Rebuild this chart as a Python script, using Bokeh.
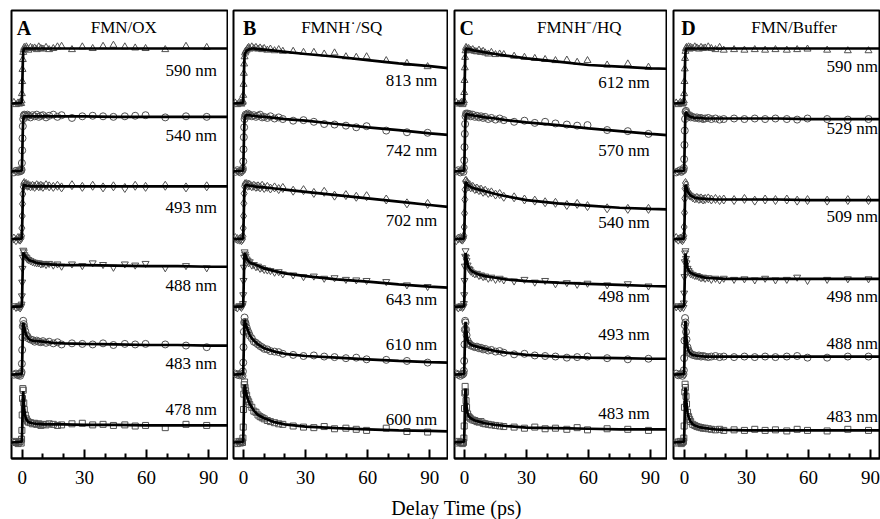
from bokeh.plotting import figure
from bokeh.layouts import row, column
from bokeh.models import FixedTicker, Range1d
from bokeh.core.properties import value
from bokeh.embed import file_html
from bokeh.resources import INLINE

# ---------------- data (normalised transient signal) ----------------
T_DATA = [-4.0, -3.0, -2.0, -1.5, -1.0, -0.5,
          -0.3, -0.15, 0.0, 0.15, 0.3, 0.5, 0.75, 1.0,
          1.5, 2.0, 2.5, 3.0, 4.0, 5.0,
          6.0, 7.0, 8.0, 9.0, 10.0,
          11.5, 13.0, 15.0, 17.0,
          19.0, 24.0, 29.0, 34.0, 39.0, 44.0, 49.5, 54.5, 59.5,
          69.0, 79.0, 89.0]
T_FIT = [-5.3, -0.3, -0.15, 0.0, 0.15, 0.3, 0.5, 0.75,
         1.0, 1.5, 2.0, 3.0, 4.0, 5.0, 7.0, 10.0,
         15.0, 20.0, 30.0, 45.0, 60.0, 75.0, 90.0, 100.0]

PANEL_LETTERS = ["A", "B", "C", "D"]
PANEL_TITLES = ["FMN/OX", "FMNH\u02D9/SQ", "FMNH\u207B/HQ", "FMN/Buffer"]

OX_LABELS = ["590 nm", "540 nm", "493 nm", "488 nm", "483 nm", "478 nm"]
SQ_LABELS = ["813 nm", "742 nm", "702 nm", "643 nm", "610 nm", "600 nm"]
HQ_LABELS = ["612 nm", "570 nm", "540 nm", "498 nm", "493 nm", "483 nm"]
BUF_LABELS = ["590 nm", "529 nm", "509 nm", "498 nm", "488 nm", "483 nm"]

# ---- FMN/OX ----
OX_590_DATA = [0.02, -0.02, 0.01, -0.01, 0.02, 0.0,
               0.05, 0.18, 0.4, 0.62, 0.8, 0.93, 0.98, 1.02,
               0.99, 1.03, 1.0, 0.97, 1.02, 1.0,
               1.01, 0.98, 1.03, 1.0, 0.99,
               1.02, 0.98, 1.0, 1.03,
               1.04, 0.98, 1.03, 1.0, 1.04, 1.06, 1.03, 1.01, 1.0,
               0.98, 1.04, 1.02]
OX_590_FIT = [0.0, 0.01, 0.06, 0.25, 0.5, 0.75, 0.93, 0.99,
              1.0, 1.0, 1.0, 1.0, 1.0, 1.0, 1.0, 1.0,
              1.0, 1.0, 1.0, 1.0, 1.0, 1.0, 1.0, 1.0]
OX_540_DATA = [-0.02, 0.01, -0.01, 0.02, 0.0, 0.01,
               0.03, 0.15, 0.38, 0.6, 0.82, 0.95, 1.01, 1.03,
               1.02, 0.99, 1.03, 1.01, 0.98, 1.02,
               1.0, 1.03, 0.99, 1.01, 1.02,
               0.98, 1.01, 1.03, 0.99,
               1.02, 0.97, 1.0, 1.01, 1.0, 0.99, 1.0, 1.01, 1.02,
               0.98, 1.0, 0.99]
OX_540_FIT = [0.0, 0.01, 0.06, 0.25, 0.5, 0.75, 0.93, 0.99,
              1.0, 1.0, 1.0, 1.0, 1.0, 1.0, 1.0, 1.0,
              1.0, 1.0, 1.0, 0.99, 0.99, 0.99, 0.99, 0.99]
OX_493_DATA = [0.01, -0.02, 0.02, 0.0, -0.01, 0.02,
               0.06, 0.2, 0.42, 0.64, 0.82, 0.95, 1.0, 1.02,
               0.99, 1.0, 0.97, 0.98, 0.96, 0.97,
               0.95, 0.98, 0.96, 0.97, 0.95,
               0.98, 0.96, 0.95, 0.97,
               0.94, 0.98, 0.95, 0.97, 0.94, 0.96, 0.93, 0.97, 0.95,
               0.97, 0.94, 0.96]
OX_493_FIT = [0.0, 0.01, 0.06, 0.25, 0.5, 0.74, 0.92, 0.98,
              0.99, 0.98, 0.97, 0.97, 0.96, 0.96, 0.96, 0.96,
              0.96, 0.96, 0.96, 0.96, 0.96, 0.96, 0.96, 0.96]
OX_488_DATA = [0.02, -0.01, 0.0, 0.02, -0.02, 0.01,
               0.05, 0.2, 0.45, 0.7, 0.9, 1.03, 1.0, 0.95,
               0.92, 0.9, 0.87, 0.86, 0.84, 0.82,
               0.81, 0.8, 0.8, 0.78, 0.79,
               0.77, 0.79, 0.76, 0.78,
               0.74, 0.78, 0.75, 0.8, 0.77, 0.72, 0.78, 0.76, 0.79,
               0.71, 0.75, 0.71]
OX_488_FIT = [0.0, 0.01, 0.06, 0.25, 0.52, 0.78, 0.97, 0.98,
              0.95, 0.92, 0.9, 0.86, 0.84, 0.83, 0.8, 0.78,
              0.77, 0.76, 0.76, 0.75, 0.74, 0.74, 0.73, 0.73]
OX_483_DATA = [0.0, 0.02, -0.01, 0.01, -0.02, 0.02,
               0.05, 0.2, 0.45, 0.68, 0.88, 0.98, 0.92, 0.86,
               0.79, 0.72, 0.7, 0.66, 0.64, 0.63,
               0.6, 0.62, 0.6, 0.59, 0.61,
               0.58, 0.6, 0.57, 0.59,
               0.55, 0.57, 0.56, 0.55, 0.57, 0.54, 0.56, 0.55, 0.56,
               0.55, 0.53, 0.5]
OX_483_FIT = [0.0, 0.01, 0.06, 0.25, 0.5, 0.76, 0.95, 0.9,
              0.85, 0.78, 0.72, 0.66, 0.63, 0.62, 0.61, 0.6,
              0.58, 0.57, 0.56, 0.55, 0.54, 0.54, 0.53, 0.53]
OX_478_DATA = [0.02, 0.0, -0.02, 0.01, 0.02, -0.01,
               0.06, 0.22, 0.5, 0.8, 0.98, 0.95, 0.72, 0.6,
               0.5, 0.43, 0.39, 0.37, 0.36, 0.34,
               0.35, 0.33, 0.34, 0.31, 0.33,
               0.32, 0.34, 0.33, 0.31,
               0.32, 0.34, 0.35, 0.32, 0.33, 0.31, 0.32, 0.3, 0.31,
               0.27, 0.33, 0.31]
OX_478_FIT = [0.0, 0.01, 0.06, 0.25, 0.52, 0.8, 0.93, 0.75,
              0.6, 0.48, 0.42, 0.37, 0.36, 0.35, 0.34, 0.33,
              0.33, 0.33, 0.32, 0.32, 0.31, 0.31, 0.31, 0.31]

# ---- FMNH./SQ ----
SQ_813_DATA = [0.01, -0.02, 0.02, 0.0, -0.01, 0.02,
               0.04, 0.15, 0.35, 0.55, 0.72, 0.85, 0.92, 0.95,
               0.97, 1.0, 1.02, 0.99, 1.03, 1.0,
               1.02, 0.99, 1.01, 0.98, 1.0,
               0.97, 0.99, 0.96, 0.98,
               0.95, 0.95, 0.93, 0.93, 0.9, 0.92, 0.85, 0.84, 0.85,
               0.78, 0.73, 0.67]
SQ_813_FIT = [0.0, 0.01, 0.05, 0.22, 0.45, 0.68, 0.86, 0.91,
              0.93, 0.96, 0.97, 0.99, 1.0, 1.0, 0.99, 0.98,
              0.96, 0.94, 0.9, 0.85, 0.79, 0.73, 0.68, 0.64]
SQ_742_DATA = [-0.01, 0.02, 0.0, -0.02, 0.01, 0.02,
               0.05, 0.18, 0.4, 0.62, 0.8, 0.95, 1.0, 1.03,
               1.02, 1.05, 1.01, 1.03, 1.0, 1.02,
               0.99, 1.01, 1.03, 0.98, 0.99,
               0.97, 1.0, 0.96, 0.98,
               0.95, 0.92, 0.93, 0.9, 0.86, 0.85, 0.83, 0.8, 0.82,
               0.74, 0.71, 0.7]
SQ_742_FIT = [0.0, 0.01, 0.06, 0.25, 0.5, 0.75, 0.94, 0.99,
              1.01, 1.02, 1.02, 1.02, 1.01, 1.01, 1.0, 0.99,
              0.97, 0.95, 0.92, 0.86, 0.8, 0.75, 0.69, 0.66]
SQ_702_DATA = [0.02, 0.0, -0.01, 0.01, -0.02, 0.0,
               0.05, 0.2, 0.42, 0.65, 0.83, 0.96, 1.0, 0.99,
               1.0, 0.97, 0.99, 0.98, 0.96, 0.97,
               0.95, 0.96, 0.94, 0.97, 0.93,
               0.95, 0.92, 0.94, 0.91,
               0.93, 0.88, 0.89, 0.84, 0.86, 0.79, 0.8, 0.77, 0.78,
               0.72, 0.65, 0.64]
SQ_702_FIT = [0.0, 0.01, 0.06, 0.25, 0.5, 0.75, 0.93, 0.97,
              0.98, 0.98, 0.98, 0.97, 0.97, 0.96, 0.95, 0.94,
              0.92, 0.9, 0.86, 0.8, 0.74, 0.68, 0.62, 0.58]
SQ_643_DATA = [0.0, -0.02, 0.02, 0.01, -0.01, 0.02,
               0.06, 0.22, 0.48, 0.72, 0.9, 1.0, 0.96, 0.92,
               0.87, 0.84, 0.8, 0.82, 0.76, 0.77,
               0.73, 0.74, 0.7, 0.71, 0.68,
               0.67, 0.66, 0.63, 0.64,
               0.6, 0.58, 0.55, 0.56, 0.52, 0.53, 0.5, 0.49, 0.48,
               0.46, 0.4, 0.37]
SQ_643_FIT = [0.0, 0.01, 0.06, 0.25, 0.52, 0.78, 0.97, 0.97,
              0.93, 0.88, 0.85, 0.81, 0.79, 0.78, 0.75, 0.7,
              0.65, 0.61, 0.56, 0.5, 0.46, 0.41, 0.37, 0.35]
SQ_610_DATA = [0.02, 0.0, -0.01, 0.02, 0.0, -0.02,
               0.06, 0.22, 0.5, 0.78, 0.95, 1.04, 0.96, 0.93,
               0.86, 0.8, 0.76, 0.71, 0.66, 0.6,
               0.58, 0.55, 0.52, 0.5, 0.47,
               0.46, 0.43, 0.42, 0.41,
               0.38, 0.36, 0.34, 0.35, 0.33, 0.32, 0.3, 0.31, 0.28,
               0.27, 0.25, 0.22]
SQ_610_FIT = [0.0, 0.01, 0.06, 0.26, 0.53, 0.8, 1.0, 0.98,
              0.94, 0.87, 0.82, 0.72, 0.66, 0.62, 0.55, 0.48,
              0.42, 0.38, 0.34, 0.31, 0.28, 0.25, 0.23, 0.22]
SQ_600_DATA = [0.01, -0.02, 0.02, -0.01, 0.02, 0.0,
               0.08, 0.28, 0.6, 0.88, 1.05, 1.1, 1.0, 0.94,
               0.86, 0.78, 0.74, 0.69, 0.64, 0.57,
               0.55, 0.5, 0.47, 0.45, 0.43,
               0.4, 0.38, 0.36, 0.34,
               0.33, 0.3, 0.28, 0.27, 0.29, 0.25, 0.26, 0.24, 0.22,
               0.26, 0.2, 0.19]
SQ_600_FIT = [0.0, 0.01, 0.07, 0.28, 0.56, 0.84, 1.05, 1.02,
              0.96, 0.87, 0.8, 0.7, 0.64, 0.58, 0.5, 0.44,
              0.37, 0.33, 0.29, 0.26, 0.24, 0.22, 0.21, 0.2]

# ---- FMNH-/HQ ----
HQ_612_DATA = [0.02, -0.01, 0.0, 0.02, -0.02, 0.01,
               0.05, 0.2, 0.42, 0.65, 0.84, 0.96, 1.02, 1.0,
               0.98, 1.0, 0.96, 0.97, 0.98, 0.95,
               0.94, 0.97, 0.93, 0.95, 0.92,
               0.9, 0.93, 0.89, 0.9,
               0.89, 0.86, 0.84, 0.82, 0.8, 0.78, 0.79, 0.75, 0.78,
               0.7, 0.72, 0.66]
HQ_612_FIT = [0.0, 0.01, 0.06, 0.25, 0.5, 0.76, 0.95, 0.99,
              1.0, 0.99, 0.99, 0.98, 0.97, 0.96, 0.95, 0.93,
              0.9, 0.87, 0.82, 0.76, 0.7, 0.67, 0.64, 0.63]
HQ_570_DATA = [0.0, 0.02, -0.02, 0.01, 0.02, -0.01,
               0.06, 0.2, 0.44, 0.68, 0.86, 1.0, 1.05, 1.03,
               1.05, 1.02, 1.04, 1.0, 1.03, 0.99,
               1.01, 0.98, 1.0, 0.97, 0.99,
               0.95, 0.97, 0.94, 0.96,
               0.93, 0.9, 0.92, 0.88, 0.9, 0.87, 0.85, 0.83, 0.84,
               0.75, 0.73, 0.68]
HQ_570_FIT = [0.0, 0.01, 0.06, 0.26, 0.52, 0.78, 0.98, 1.03,
              1.04, 1.04, 1.03, 1.02, 1.02, 1.01, 1.0, 0.98,
              0.96, 0.93, 0.89, 0.84, 0.78, 0.73, 0.68, 0.65]
HQ_540_DATA = [-0.02, 0.01, 0.02, 0.0, -0.01, 0.02,
               0.06, 0.22, 0.47, 0.72, 0.9, 1.05, 1.06, 1.02,
               1.0, 0.96, 0.98, 0.94, 0.95, 0.91,
               0.92, 0.89, 0.9, 0.86, 0.88,
               0.84, 0.85, 0.81, 0.82,
               0.77, 0.76, 0.72, 0.7, 0.67, 0.66, 0.62, 0.64, 0.6,
               0.56, 0.55, 0.55]
HQ_540_FIT = [0.0, 0.01, 0.06, 0.26, 0.53, 0.8, 1.02, 1.04,
              1.02, 0.99, 0.97, 0.95, 0.93, 0.92, 0.9, 0.87,
              0.82, 0.78, 0.71, 0.65, 0.61, 0.57, 0.55, 0.54]
HQ_498_DATA = [0.01, -0.02, 0.0, 0.02, -0.01, 0.01,
               0.06, 0.22, 0.48, 0.74, 0.92, 1.02, 0.9, 0.84,
               0.76, 0.7, 0.68, 0.65, 0.62, 0.6,
               0.61, 0.57, 0.58, 0.55, 0.56,
               0.52, 0.54, 0.5, 0.52,
               0.49, 0.47, 0.5, 0.45, 0.48, 0.42, 0.44, 0.41, 0.43,
               0.4, 0.42, 0.38]
HQ_498_FIT = [0.0, 0.01, 0.06, 0.25, 0.52, 0.79, 0.98, 0.93,
              0.86, 0.78, 0.72, 0.67, 0.64, 0.62, 0.59, 0.56,
              0.53, 0.5, 0.47, 0.44, 0.42, 0.4, 0.38, 0.37]
HQ_493_DATA = [0.02, 0.0, -0.02, 0.01, 0.0, 0.02,
               0.07, 0.25, 0.55, 0.82, 0.98, 0.95, 0.82, 0.72,
               0.62, 0.57, 0.56, 0.53, 0.52, 0.5,
               0.51, 0.48, 0.49, 0.46, 0.47,
               0.44, 0.45, 0.42, 0.43,
               0.4, 0.37, 0.38, 0.35, 0.34, 0.33, 0.31, 0.32, 0.33,
               0.3, 0.28, 0.29]
HQ_493_FIT = [0.0, 0.01, 0.06, 0.26, 0.54, 0.82, 0.96, 0.85,
              0.74, 0.63, 0.58, 0.55, 0.53, 0.52, 0.5, 0.47,
              0.43, 0.4, 0.36, 0.33, 0.31, 0.3, 0.29, 0.29]
HQ_483_DATA = [-0.01, 0.02, 0.0, 0.01, -0.02, 0.0,
               0.08, 0.3, 0.62, 0.9, 1.02, 0.92, 0.76, 0.64,
               0.52, 0.47, 0.45, 0.43, 0.41, 0.4,
               0.38, 0.37, 0.38, 0.35, 0.34,
               0.33, 0.32, 0.31, 0.3,
               0.29, 0.28, 0.26, 0.28, 0.25, 0.26, 0.24, 0.27, 0.23,
               0.25, 0.24, 0.22]
HQ_483_FIT = [0.0, 0.01, 0.07, 0.28, 0.57, 0.86, 0.98, 0.8,
              0.66, 0.53, 0.48, 0.44, 0.42, 0.4, 0.38, 0.35,
              0.32, 0.3, 0.27, 0.26, 0.25, 0.24, 0.24, 0.24]

# ---- FMN/Buffer ----
BUF_590_DATA = [0.01, -0.02, 0.02, 0.0, -0.01, 0.01,
                0.05, 0.18, 0.4, 0.63, 0.82, 0.95, 1.0, 1.02,
                1.0, 1.03, 0.99, 1.02, 1.0, 1.03,
                1.01, 0.99, 1.02, 1.0, 1.01,
                1.03, 1.0, 0.98, 1.02,
                0.97, 0.98, 0.97, 0.98, 0.97, 0.98, 0.97, 0.98, 0.99,
                0.97, 0.96, 0.96]
BUF_590_FIT = [0.0, 0.01, 0.06, 0.25, 0.5, 0.75, 0.93, 0.99,
               1.0, 1.0, 1.0, 1.0, 1.0, 1.0, 1.0, 1.0,
               1.0, 1.0, 1.0, 1.0, 1.0, 1.0, 1.0, 1.0]
BUF_529_DATA = [-0.02, 0.0, 0.02, -0.01, 0.01, 0.02,
                0.06, 0.22, 0.48, 0.74, 0.95, 1.08, 1.1, 1.06,
                1.03, 1.0, 1.02, 0.98, 0.99, 0.97,
                0.98, 0.96, 0.97, 0.95, 0.96,
                0.97, 0.95, 0.96, 0.94,
                0.95, 0.96, 0.95, 0.96, 0.95, 0.96, 0.95, 0.94, 0.96,
                0.95, 0.94, 0.95]
BUF_529_FIT = [0.0, 0.01, 0.07, 0.28, 0.56, 0.84, 1.05, 1.08,
               1.06, 1.03, 1.01, 0.99, 0.98, 0.97, 0.97, 0.96,
               0.96, 0.96, 0.96, 0.96, 0.95, 0.95, 0.95, 0.95]
BUF_509_DATA = [0.02, -0.01, 0.01, 0.0, -0.02, 0.01,
                0.06, 0.22, 0.48, 0.74, 0.92, 1.02, 0.98, 0.92,
                0.87, 0.84, 0.8, 0.79, 0.76, 0.74,
                0.75, 0.73, 0.74, 0.72, 0.73,
                0.74, 0.72, 0.73, 0.71,
                0.72, 0.71, 0.73, 0.7, 0.72, 0.71, 0.72, 0.7, 0.71,
                0.7, 0.71, 0.71]
BUF_509_FIT = [0.0, 0.01, 0.06, 0.25, 0.52, 0.79, 0.98, 0.97,
               0.93, 0.88, 0.84, 0.79, 0.77, 0.75, 0.74, 0.73,
               0.72, 0.72, 0.72, 0.72, 0.71, 0.71, 0.71, 0.71]
BUF_498_DATA = [0.0, 0.02, -0.02, 0.01, 0.02, -0.01,
                0.07, 0.25, 0.55, 0.82, 0.98, 1.02, 0.88, 0.8,
                0.7, 0.66, 0.63, 0.6, 0.59, 0.57,
                0.57, 0.55, 0.53, 0.54, 0.52,
                0.53, 0.5, 0.52, 0.49,
                0.52, 0.5, 0.51, 0.49, 0.52, 0.49, 0.5, 0.54, 0.48,
                0.5, 0.51, 0.51]
BUF_498_FIT = [0.0, 0.01, 0.06, 0.26, 0.54, 0.82, 0.97, 0.9,
               0.82, 0.72, 0.66, 0.62, 0.6, 0.58, 0.56, 0.53,
               0.52, 0.51, 0.51, 0.51, 0.51, 0.51, 0.51, 0.51]
BUF_488_DATA = [0.02, -0.01, 0.0, 0.02, -0.02, 0.01,
                0.08, 0.3, 0.62, 0.9, 1.03, 0.95, 0.78, 0.64,
                0.5, 0.44, 0.4, 0.38, 0.36, 0.35,
                0.34, 0.35, 0.33, 0.34, 0.33,
                0.32, 0.33, 0.34, 0.32,
                0.33, 0.32, 0.33, 0.32, 0.33, 0.32, 0.33, 0.34, 0.31,
                0.31, 0.33, 0.33]
BUF_488_FIT = [0.0, 0.01, 0.07, 0.28, 0.57, 0.86, 0.98, 0.8,
               0.65, 0.5, 0.43, 0.38, 0.36, 0.35, 0.34, 0.33,
               0.33, 0.33, 0.33, 0.33, 0.33, 0.33, 0.33, 0.33]
BUF_483_DATA = [-0.01, 0.01, 0.02, -0.02, 0.0, 0.02,
                0.08, 0.3, 0.64, 0.92, 1.06, 1.0, 0.84, 0.7,
                0.55, 0.47, 0.42, 0.38, 0.33, 0.31,
                0.29, 0.28, 0.27, 0.26, 0.26,
                0.25, 0.24, 0.23, 0.24,
                0.22, 0.23, 0.22, 0.24, 0.22, 0.23, 0.21, 0.24, 0.22,
                0.21, 0.24, 0.22]
BUF_483_FIT = [0.0, 0.01, 0.07, 0.29, 0.58, 0.88, 1.0, 0.85,
               0.7, 0.55, 0.46, 0.38, 0.33, 0.31, 0.28, 0.26,
               0.24, 0.23, 0.22, 0.22, 0.22, 0.22, 0.22, 0.22]

PANEL_DATA = [
    [OX_590_DATA, OX_540_DATA, OX_493_DATA, OX_488_DATA, OX_483_DATA, OX_478_DATA],
    [SQ_813_DATA, SQ_742_DATA, SQ_702_DATA, SQ_643_DATA, SQ_610_DATA, SQ_600_DATA],
    [HQ_612_DATA, HQ_570_DATA, HQ_540_DATA, HQ_498_DATA, HQ_493_DATA, HQ_483_DATA],
    [BUF_590_DATA, BUF_529_DATA, BUF_509_DATA, BUF_498_DATA, BUF_488_DATA, BUF_483_DATA],
]
PANEL_FITS = [
    [OX_590_FIT, OX_540_FIT, OX_493_FIT, OX_488_FIT, OX_483_FIT, OX_478_FIT],
    [SQ_813_FIT, SQ_742_FIT, SQ_702_FIT, SQ_643_FIT, SQ_610_FIT, SQ_600_FIT],
    [HQ_612_FIT, HQ_570_FIT, HQ_540_FIT, HQ_498_FIT, HQ_493_FIT, HQ_483_FIT],
    [BUF_590_FIT, BUF_529_FIT, BUF_509_FIT, BUF_498_FIT, BUF_488_FIT, BUF_483_FIT],
]
PANEL_LABELS = [OX_LABELS, SQ_LABELS, HQ_LABELS, BUF_LABELS]

# ---------------- layout / style ----------------
FONT = "Liberation Serif"
MARKERS = ["triangle", "circle", "diamond", "inverted_triangle", "circle", "square"]
MARKER_SIZES = [7, 7, 9, 7, 7, 6]
BASE = 16.0        # vertical position of the lowest trace baseline (frame pixels)
SPACING = 67.8     # distance between stacked traces
AMP = 55.0         # height of unit signal
FRAME_H = 448

# (left border, frame width, x start, x end)
FRAMES = [(11, 217, -5.16, 99.5), (5, 215, -4.85, 99.1),
          (6, 213, -4.84, 98.2), (6, 207, -5.3, 94.8)]
LABEL_X = [94.0, 93.6, 89.6, 93.6]
LABEL_Y = [[388, 323, 251, 173, 95, 49],
           [378, 308, 238, 159, 114, 39],
           [376, 308, 236, 162, 124, 45],
           [392, 330, 242, 162, 115, 42]]
TITLE_X = [49.0, 47.5, 55.5, 53.0]
LETTER_X = [-2.6, -0.3, -2.4, -1.6]
TOP_Y = 431

panels = []
for k in range(4):
    left, fw, x0, x1 = FRAMES[k]
    p = figure(width=left + fw, height=496, output_backend="svg", toolbar_location=None,
               x_range=Range1d(x0, x1), y_range=Range1d(0, FRAME_H),
               y_axis_location=None, min_border_left=left, min_border_right=0,
               min_border_top=10, min_border_bottom=38,
               outline_line_color="black", outline_line_width=2,
               background_fill_color="white", border_fill_color="white")
    p.grid.visible = False
    ax = p.xaxis[0]
    ax.ticker = FixedTicker(ticks=[0, 30, 60, 90], minor_ticks=[10, 20, 40, 50, 70, 80])
    ax.axis_line_width = 2
    ax.major_tick_in = 9
    ax.major_tick_out = 0
    ax.minor_tick_in = 5
    ax.minor_tick_out = 0
    ax.major_tick_line_width = 2
    ax.minor_tick_line_width = 2
    ax.major_label_text_font = FONT
    ax.major_label_text_font_size = "19px"
    ax.major_label_text_color = "black"
    ax.major_label_standoff = 12

    for i in range(6):
        off = BASE + (5 - i) * SPACING
        yd = [off + AMP * v for v in PANEL_DATA[k][i]]
        yf = [off + AMP * v for v in PANEL_FITS[k][i]]
        p.scatter(T_DATA, yd, marker=MARKERS[i], size=MARKER_SIZES[i],
                  line_color="#505050", line_width=1.0, fill_color=None)
        p.line(T_FIT, yf, line_color="black", line_width=2.7)

    p.text(x=[LABEL_X[k]] * 6, y=LABEL_Y[k], text=PANEL_LABELS[k],
           text_align="right", text_baseline="middle", text_font=value(FONT),
           text_font_size="17px", text_color="black")
    p.text(x=[TITLE_X[k]], y=[TOP_Y], text=[PANEL_TITLES[k]], text_align="center",
           text_baseline="middle", text_font=value(FONT), text_font_size="17px",
           text_color="black")
    p.text(x=[LETTER_X[k]], y=[TOP_Y], text=[PANEL_LETTERS[k]], text_align="left",
           text_baseline="middle", text_font=value(FONT), text_font_size="20px",
           text_font_style="bold", text_color="black")
    panels.append(p)

lab = figure(width=880, height=23, output_backend="svg", toolbar_location=None,
             x_range=Range1d(0, 880), y_range=Range1d(0, 23),
             x_axis_location=None, y_axis_location=None, min_border=0,
             outline_line_color=None, background_fill_color="white",
             border_fill_color="white")
lab.grid.visible = False
lab.text(x=[456], y=[12], text=["Delay Time (ps)"], text_align="center",
         text_baseline="middle", text_font=value(FONT), text_font_size="20px",
         text_color="black")

layout = column(row(*panels, spacing=0), lab, spacing=0)
open("out.html", "w").write(file_html(layout, INLINE))
